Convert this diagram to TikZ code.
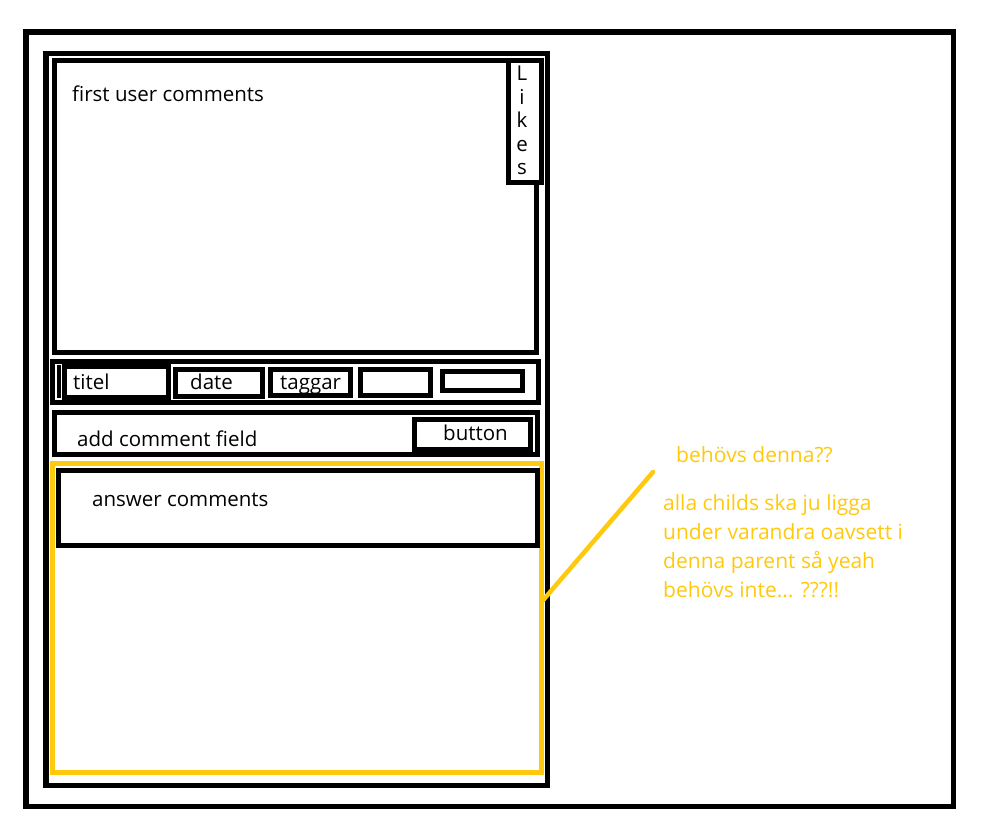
\documentclass[tikz,border=0pt]{standalone}
\usepackage{fontspec}
\setmainfont{Open Sans}
\usepackage{tikz}
\usetikzlibrary{positioning}
\definecolor{paintgold}{HTML}{FFC90E}

\begin{document}
\begin{tikzpicture}[
        x=1pt, y=-1pt,
        box/.style={rectangle, draw, line width=5pt, inner sep=0pt, outer sep=0pt, anchor=north west, fill=white},
        goldbox/.style={box, draw=paintgold, fill=none},
        txt/.style={inner sep=0pt, anchor=base west, font=\fontsize{20.5}{29}\selectfont},
        goldtxt/.style={txt, text=paintgold, align=left, font=\fontsize{21}{29}\selectfont},
        note line/.style={draw=paintgold, line width=4.5pt, line cap=round}
    ]
        \useasboundingbox (0,0) rectangle (984,822);

        % page and comment container
        \node[box, line width=5.5pt, minimum width=927.5pt, minimum height=774.5pt] (page) at (26,32) {};
        \node[box, line width=5.5pt, minimum width=501.5pt, minimum height=732pt] (container) at (46,53.5) {};

        % first comment with likes
        \node[box, minimum width=482pt, minimum height=292.5pt] (first) at (54,60) {};
        \node[box, minimum width=33pt, minimum height=122pt] (likes) at (508.5,60) {};
        \node[txt] (firsttext) at (72,101) {first user comments};
        \node[inner sep=0pt, anchor=north, align=center, font=\fontsize{20.5}{23.5}\selectfont] (likestext) at (522,66) {L\\i\\k\\e\\s};

        % info row
        \node[box, minimum width=486.5pt, minimum height=41pt] (inforow) at (52,361) {};
        \draw[line width=3.5pt] (59,365) -- (59,398);
        \node[box, minimum width=104.5pt, minimum height=31.5pt] (titel) at (64,366) {};
        \node[box, minimum width=87pt, minimum height=26.5pt] (date) at (175.5,369.5) {};
        \node[box, minimum width=80pt, minimum height=26.5pt] (taggar) at (270.5,369) {};
        \node[box, minimum width=70pt, minimum height=26.5pt] (blankone) at (360.5,369) {};
        \node[box, minimum width=80pt, minimum height=19pt] (blanktwo) at (442.5,371.5) {};
        \node[txt] (titeltext) at (73,389.5) {titel};
        \node[txt] (datetext) at (190,389.5) {date};
        \node[txt] (taggartext) at (280,389.5) {taggar};

        % add comment row
        \node[box, minimum width=483pt, minimum height=42pt] (addrow) at (54.5,412.5) {};
        \node[box, minimum width=116pt, minimum height=30pt] (button) at (414.5,419.5) {};
        \node[txt] (addtext) at (77,446.7) {add comment field};
        \node[txt] (buttontext) at (443,440.7) {button};

        % answers
        \node[goldbox, minimum width=489pt, minimum height=309.5pt] (answers) at (52.5,463) {};
        \node[box, minimum width=479pt, minimum height=75pt] (answer) at (58.5,470) {};
        \node[txt] (answertext) at (92,506.7) {answer comments};

        % note
        \node[goldtxt] (question) at (676,462.7) {behövs denna??};
        \node[goldtxt, anchor=north west] (remark) at (663,494.5) {alla childs ska ju ligga\\under varandra oavsett i\\denna parent så yeah\\behövs inte... ???!!};
        \coordinate (tip) at (653,472);
        \coordinate (hit) at (541.5,602);

        \draw[note line] (tip) -- (answers.east |- hit);
    \end{tikzpicture}
\end{document}
